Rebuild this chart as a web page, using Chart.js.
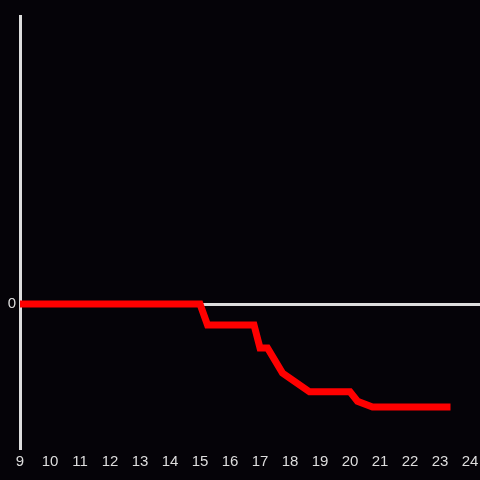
<!DOCTYPE html>
<html lang="en">
  <head>
    <meta charset="UTF-8" />
    <title>Line</title>
    <script src="https://cdn.jsdelivr.net/npm/chart.js"></script>
    <style>
      html, body { margin: 0; padding: 0; background: #050308; }
      canvas { display: block; }
    </style>
  </head>
  <body>
    <canvas id="myChart" width="480" height="480"></canvas>
    <script>
      // x positions (hours) and values
      const hours = [9, 15, 15.25, 16.8, 17, 17.25, 17.75, 18.1, 18.65, 20, 20.25, 20.75, 23.35];
      const values = [0, 0, -2.9, -2.9, -6.1, -6.1, -9.6, -10.6, -12.2, -12.2, -13.5, -14.3, -14.3];
      const xTicks = [9, 10, 11, 12, 13, 14, 15, 16, 17, 18, 19, 20, 21, 22, 23, 24];
      const yTicks = [0];

      const points = hours.map((h, i) => ({ x: h, y: values[i] }));

      new Chart(document.getElementById("myChart"), {
        type: "scatter",
        data: {
          datasets: [
            {
              data: points,
              showLine: true,
              borderColor: "#ff0000",
              borderWidth: 7,
              pointRadius: 0,
              tension: 0,
            },
          ],
        },
        options: {
          responsive: false,
          animation: false,
          layout: { padding: { top: 16, right: 0, left: 0, bottom: 0 } },
          plugins: { legend: { display: false }, tooltip: { enabled: false } },
          scales: {
            x: {
              type: "linear",
              min: 9,
              max: 24.333,
              afterBuildTicks: (scale) => {
                scale.ticks = xTicks.map((v) => ({ value: v }));
              },
              afterFit: (scale) => {
                scale.height = 32;
                scale.paddingLeft = 0;
                scale.paddingRight = 0;
              },
              border: { display: false },
              grid: { display: false, drawTicks: false, tickLength: 0 },
              ticks: {
                color: "#dddddd",
                font: { size: 15, family: "Liberation Sans, Arial, sans-serif" },
                padding: 5,
                maxRotation: 0,
                autoSkip: false,
              },
            },
            y: {
              min: -20,
              max: 40,
              afterBuildTicks: (scale) => {
                scale.ticks = yTicks.map((v) => ({ value: v }));
              },
              afterFit: (scale) => {
                scale.width = 20;
              },
              border: { display: true, color: "#dddddd", width: 3 },
              grid: { color: "#dddddd", lineWidth: 3, drawTicks: false },
              ticks: {
                color: "#dddddd",
                font: { size: 15, family: "Liberation Sans, Arial, sans-serif" },
                padding: 4,
              },
            },
          },
        },
      });
    </script>
  </body>
</html>
